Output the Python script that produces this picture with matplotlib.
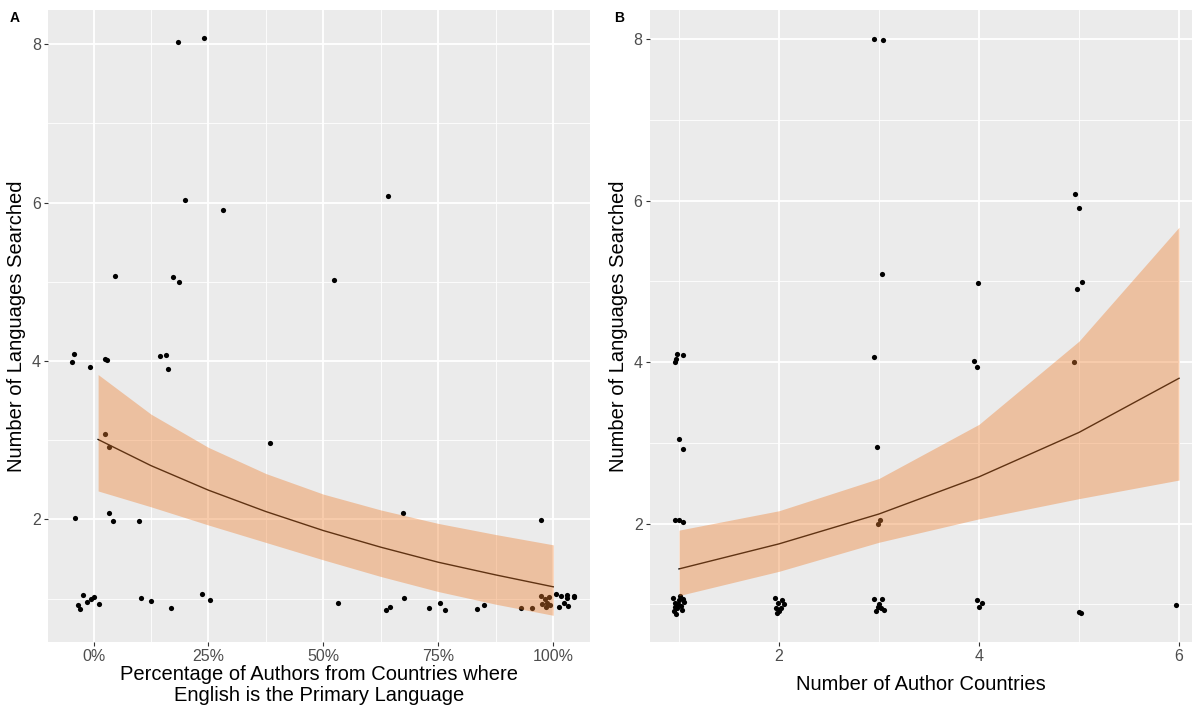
import matplotlib
matplotlib.use("Agg")
import matplotlib.pyplot as plt
import numpy as np

plt.rcParams['font.family'] = ['Liberation Sans', 'DejaVu Sans']

# ---------------- Panel A data ----------------
pct_eng = [0.184, 0.240, 0.199, 0.281, 0.640, 0.047, 0.173, 0.186, 0.523,
           -0.043, -0.047, -0.008, 0.025, 0.030, 0.144, 0.157, 0.162,
           0.025, 0.034, 0.384,
           -0.040, 0.034, 0.043, 0.099, 0.673, 0.973,
           -0.033, -0.030, -0.023, -0.014, -0.006, 0.000, 0.012, 0.103, 0.125,
           0.168, 0.235, 0.253, 0.531, 0.636, 0.644, 0.676, 0.730, 0.754, 0.764,
           0.835, 0.849, 0.930, 0.953,
           0.973, 0.976, 0.982, 0.986, 0.990, 0.993, 0.985,
           1.007, 1.018, 1.029, 1.030, 1.045, 1.045, 1.013, 1.023, 1.032]
langs_a = [8.03, 8.08, 6.03, 5.91, 6.09, 5.08, 5.06, 5.00, 5.03,
           4.09, 3.99, 3.93, 4.03, 4.02, 4.06, 4.08, 3.90,
           3.08, 2.92, 2.97,
           2.02, 2.08, 1.98, 1.98, 2.08, 1.99,
           0.92, 0.87, 1.05, 0.96, 0.99, 1.02, 0.93, 1.01, 0.97,
           0.88, 1.06, 0.98, 0.94, 0.86, 0.90, 1.01, 0.88, 0.95, 0.86,
           0.87, 0.92, 0.88, 0.88,
           1.04, 0.93, 1.00, 0.95, 1.02, 0.92, 0.90,
           1.06, 1.03, 1.05, 1.01, 1.04, 1.02, 0.89, 0.94, 0.91]

fit_a_x = [0.01, 0.125, 0.25, 0.375, 0.5, 0.625, 0.75, 0.875, 1.0]
fit_a_y = [3.01, 2.68, 2.37, 2.10, 1.86, 1.65, 1.46, 1.30, 1.15]
fit_a_lo = [2.36, 2.16, 1.93, 1.71, 1.49, 1.28, 1.09, 0.93, 0.79]
fit_a_hi = [3.83, 3.33, 2.91, 2.58, 2.32, 2.12, 1.95, 1.81, 1.68]

# ---------------- Panel B data ----------------
n_countries = [2.95, 3.04, 4.96, 5.00, 3.03, 3.99, 5.03, 4.98,
               2.95, 3.95, 3.98, 4.95, 0.98, 1.04, 0.96, 0.97,
               1.00, 1.04, 2.98, 0.96, 1.00, 1.04, 2.99, 3.01,
               3.98, 4.03, 4.00, 5.00, 5.02, 5.97,
               0.94, 0.96, 0.98, 1.00, 1.02, 1.04, 0.95, 0.97, 1.03, 1.05, 0.99, 1.01, 0.96,
               1.96, 1.99, 2.03, 2.05, 1.97, 2.00, 2.02, 1.98,
               2.95, 3.03, 3.00, 3.02, 2.97, 3.05, 2.99]
langs_b = [8.00, 7.99, 6.08, 5.91, 5.09, 4.98, 4.99, 4.91,
           4.06, 4.02, 3.94, 4.00, 4.10, 4.09, 4.00, 4.04,
           3.05, 2.93, 2.95, 2.05, 2.05, 2.02, 2.00, 2.05,
           1.05, 1.02, 0.97, 0.91, 0.90, 0.99,
           1.08, 1.02, 0.95, 1.05, 0.98, 1.07, 0.92, 0.88, 0.93, 1.03, 1.00, 1.10, 0.97,
           1.08, 1.02, 1.05, 1.00, 0.95, 0.92, 0.96, 0.90,
           1.07, 1.07, 1.00, 0.95, 0.92, 0.93, 0.97]

fit_b_x = [1, 2, 3, 4, 5, 6]
fit_b_y = [1.44, 1.75, 2.12, 2.58, 3.13, 3.80]
fit_b_lo = [1.11, 1.41, 1.77, 2.06, 2.31, 2.54]
fit_b_hi = [1.92, 2.16, 2.56, 3.23, 4.26, 5.67]

PANEL_BG = '#EBEBEB'
RIBBON = '#F08030'
TITLE_SIZE = 14.5
TICK_SIZE = 11.5
W, H = 1195, 706


def style_axes(ax, xmajor, xminor, ymajor, yminor):
    ax.set_facecolor(PANEL_BG)
    for s in ax.spines.values():
        s.set_visible(False)
    ax.set_xticks(xmajor)
    ax.set_xticks(xminor, minor=True)
    ax.set_yticks(ymajor)
    ax.set_yticks(yminor, minor=True)
    ax.grid(which='major', color='white', linewidth=1.3)
    ax.grid(which='minor', color='white', linewidth=0.6)
    ax.set_axisbelow(True)
    ax.tick_params(which='major', length=3, width=0.8, color='#333333',
                   labelcolor='#4D4D4D', labelsize=TICK_SIZE, pad=2)
    ax.tick_params(which='minor', length=0)


fig = plt.figure(figsize=(W / 100, H / 100), dpi=100)

# Panel A
axA = fig.add_axes([48 / W, 64 / H, 542 / W, 632 / H])
style_axes(axA, [0, 0.25, 0.5, 0.75, 1.0], [0.125, 0.375, 0.625, 0.875],
           [2, 4, 6, 8], [1, 3, 5, 7])
axA.scatter(pct_eng, langs_a, s=14, color='black', zorder=2, linewidths=0)
axA.plot(fit_a_x, fit_a_y, color='black', linewidth=1.0, zorder=3)
axA.fill_between(fit_a_x, fit_a_lo, fit_a_hi, color=RIBBON, alpha=0.4,
                 linewidth=0, zorder=4)
axA.set_xlim(-0.099, 1.08)
axA.set_ylim(0.453, 8.433)
axA.set_xticklabels(['0%', '25%', '50%', '75%', '100%'])
axA.set_xlabel('Percentage of Authors from Countries where\nEnglish is the Primary Language',
               fontsize=TITLE_SIZE, color='black', linespacing=1.1)
axA.xaxis.label.set_va('center')
axA.xaxis.set_label_coords(319 / W, 1 - 685 / H, transform=fig.transFigure)
axA.set_ylabel('Number of Languages Searched', fontsize=TITLE_SIZE, color='black',
               labelpad=4)
fig.text(10 / W, 1 - 18 / H, 'A', fontsize=10, fontweight='bold',
         va='center', ha='left')

# Panel B
axB = fig.add_axes([649.5 / W, 64 / H, 542.5 / W, 632 / H])
style_axes(axB, [2, 4, 6], [1, 3, 5], [2, 4, 6, 8], [1, 3, 5, 7])
axB.scatter(n_countries, langs_b, s=14, color='black', zorder=2, linewidths=0)
axB.plot(fit_b_x, fit_b_y, color='black', linewidth=1.0, zorder=3)
axB.fill_between(fit_b_x, fit_b_lo, fit_b_hi, color=RIBBON, alpha=0.4,
                 linewidth=0, zorder=4)
axB.set_xlim(0.705, 6.13)
axB.set_ylim(0.535, 8.36)
axB.set_xlabel('Number of Author Countries', fontsize=TITLE_SIZE, color='black')
axB.xaxis.label.set_va('center')
axB.xaxis.set_label_coords(921 / W, 1 - 684 / H, transform=fig.transFigure)
axB.set_ylabel('Number of Languages Searched', fontsize=TITLE_SIZE, color='black',
               labelpad=4)
fig.text(614 / W, 1 - 18 / H, 'B', fontsize=10, fontweight='bold',
         va='center', ha='left')

fig.savefig('out.png', dpi=100, facecolor='white')
